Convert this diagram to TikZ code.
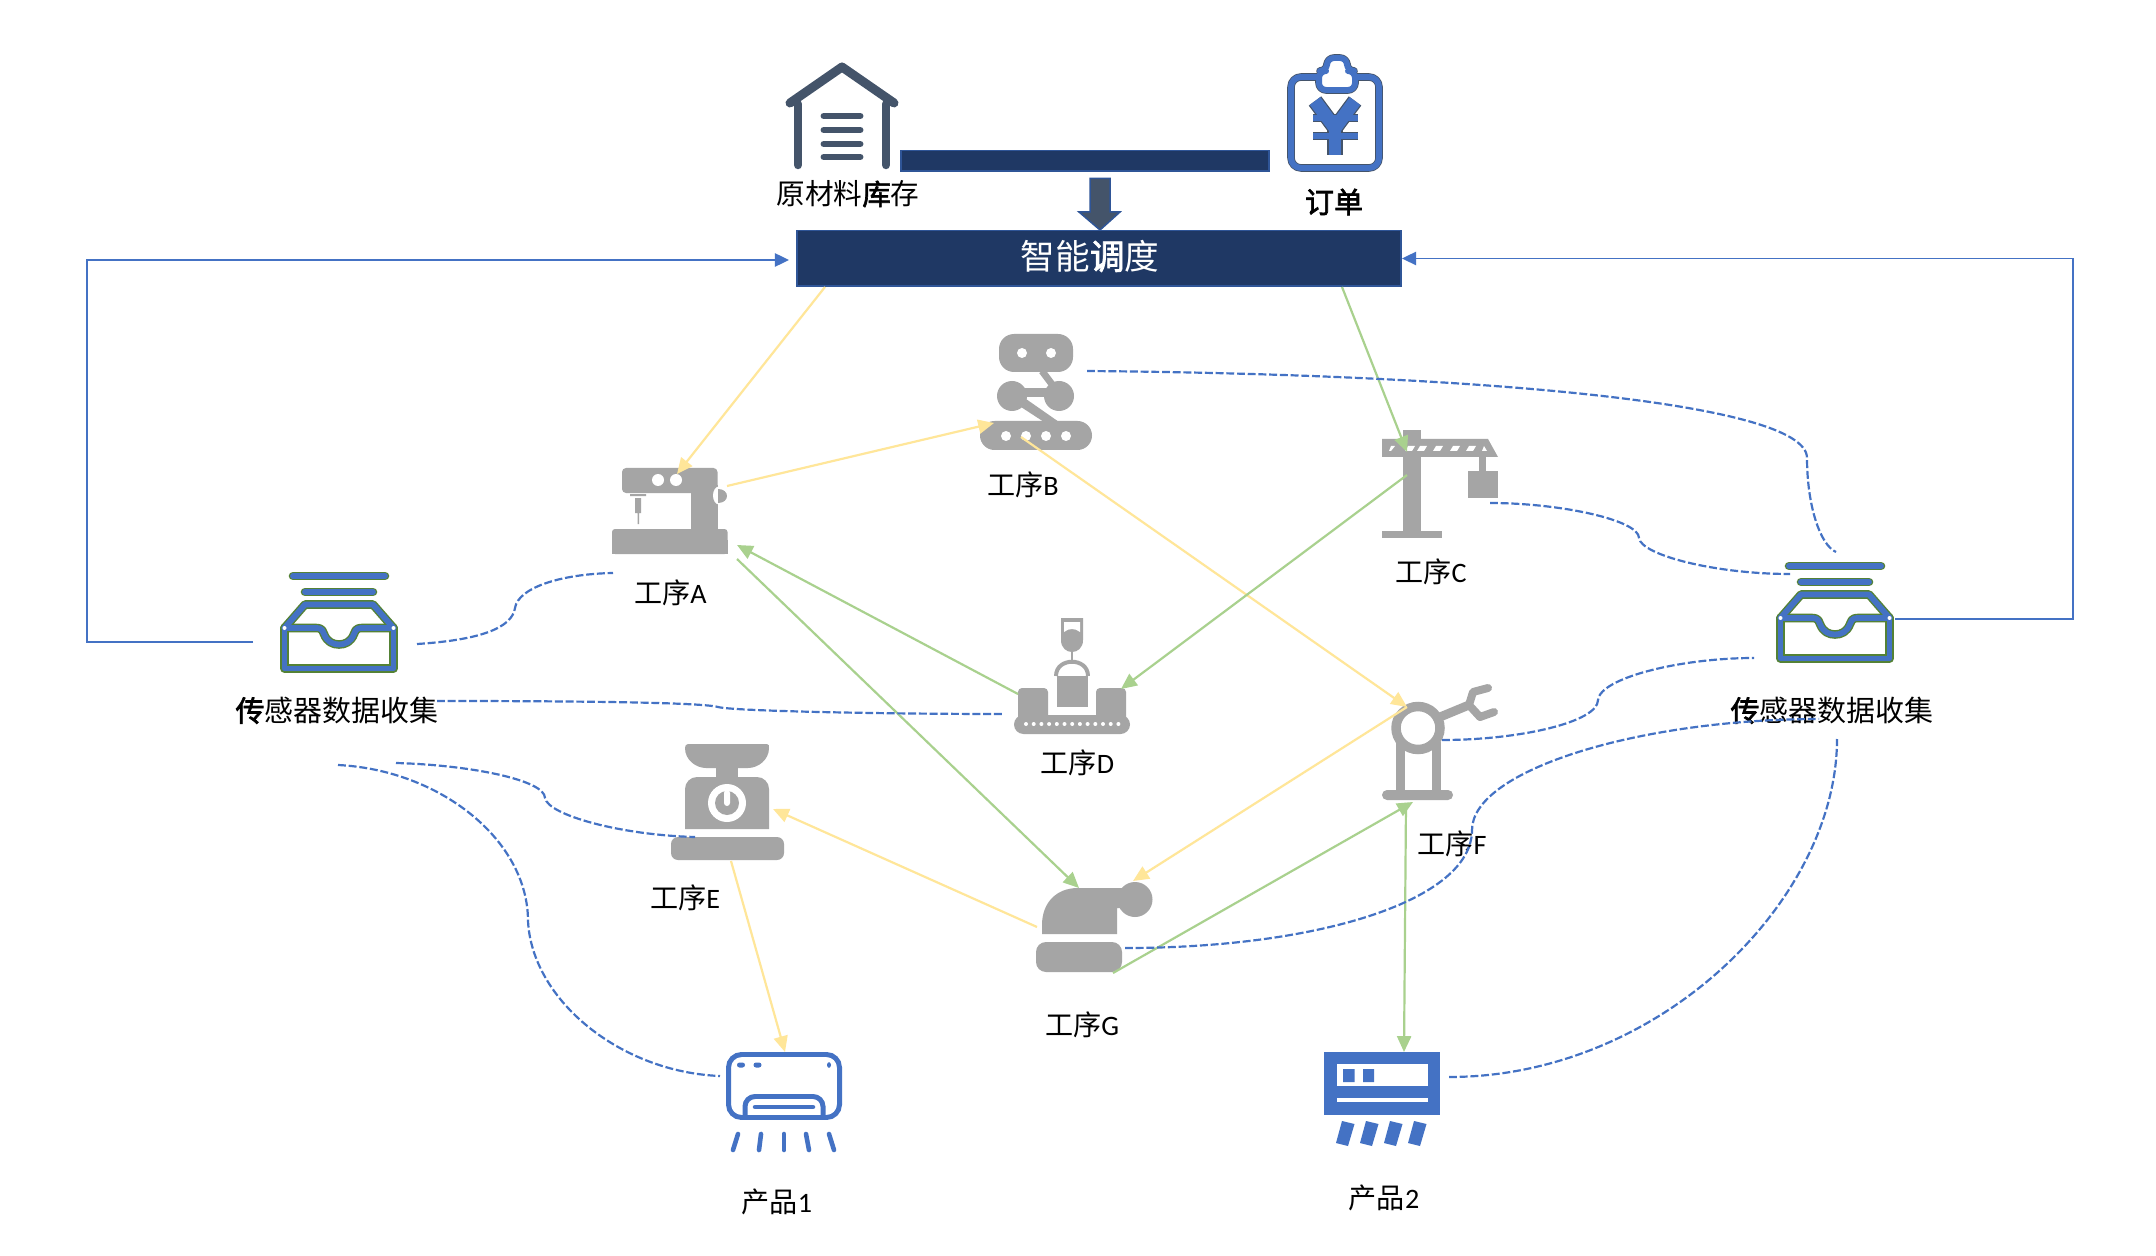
\documentclass[tikz,border=0pt]{standalone}
\usepackage{fontspec}
\setmainfont{Carlito}
\newfontfamily\cjk{Noto Sans CJK SC}
\newfontfamily\cjkheavy[FakeBold=2.2]{Noto Sans CJK SC}
\usetikzlibrary{arrows.meta}
\definecolor{gy}{HTML}{A5A5A5}
\definecolor{bl}{HTML}{4472C4}
\definecolor{gn}{HTML}{548235}
\definecolor{slatec}{HTML}{44546A}
\definecolor{navy}{HTML}{1F3864}
\definecolor{navyedge}{HTML}{2F5597}
\definecolor{yel}{HTML}{FFE699}
\definecolor{grn}{HTML}{A9D18E}
\tikzset{
  lw/.style={line width=#1*0.5669pt},
  flow/.style={lw=2.2,-{Triangle[length=9pt,width=8pt]}},
  yarr/.style={flow,draw=yel},
  garr/.style={flow,draw=grn},
  feedback/.style={lw=2,draw=bl,-{Triangle[length=8pt,width=7.5pt]}},
  link/.style={lw=2.2,draw=bl,dash pattern=on 4.5pt off 1.6pt},
  lab/.style={font=\fontsize{16}{19}\selectfont,inner sep=0pt,text=black},
  labbig/.style={font=\fontsize{16.5}{19}\selectfont,inner sep=0pt,text=black},
  grayline/.style={draw=gy,lw=#1},
  inedge/.style={draw=gn,lw=8.6,line join=round,line cap=round},
  incore/.style={draw=bl,lw=5.8,line join=round,line cap=round},
  clipedge/.style={draw=slatec,lw=7.6,line join=round},
  clipcore/.style={draw=bl,lw=6,line join=round},
  prodline/.style={draw=bl,lw=5,line cap=round},
}
\newcommand{\inboxpath}[1]{%
  \draw[#1] (1789,566) -- (1881,566);
  \draw[#1] (1801,582) -- (1869,582);
  \draw[#1] (1780.5,618) -- (1801,594.5) -- (1869,594.5) -- (1889.5,618);
  \draw[#1] (1780.5,618) -- (1780.5,658.5) -- (1889.5,658.5) -- (1889.5,618);
  \draw[#1] (1780.5,618) -- (1812,618) .. controls (1819,618) and (1819,622) .. (1820,624)
     .. controls (1823,632) and (1829,634.5) .. (1835,634.5)
     .. controls (1841,634.5) and (1847,632) .. (1850,624)
     .. controls (1851,622) and (1851,618) .. (1858,618) -- (1889.5,618);
}
\newcommand{\inboxicon}{%
  \inboxpath{inedge}\inboxpath{incore}
  \fill[white] (1780.5,618) circle[radius=2] (1889.5,618) circle[radius=2];
}
\newcommand{\clipcontent}[2]{%
  \draw[#1,rounded corners=0.2cm] (1291,77) rectangle (1379,168);
  \draw[#1,fill=white,rounded corners=0.14cm] (1319,90) -- (1319,71) -- (1327,71) -- (1327,58) -- (1347,58) -- (1347,71) -- (1355,71) -- (1355,90) -- cycle;
  \draw[#1,lw=#2+1.5] (1315,101) -- (1335,128) -- (1355,101);
  \draw[#1,lw=#2] (1313,118) -- (1358,118);
  \draw[#1,lw=#2] (1313,136) -- (1358,136);
  \draw[#1,lw=#2+1] (1335,128) -- (1335,155);
}
\begin{document}
\begin{tikzpicture}[x=0.02cm,y=-0.02cm]
\useasboundingbox (0,0) rectangle (2156,1256);
\fill[white] (0,0) rectangle (2156,1256);

% warehouse
\draw[slatec,lw=9,line cap=round,line join=round] (790,103) -- (842,67) -- (894,103);
\draw[slatec,lw=8.5,line cap=round] (798,104) -- (798,165);
\draw[slatec,lw=8.5,line cap=round] (886,104) -- (886,165);
\foreach \yy in {116,130,144,157}{\draw[slatec,lw=7,line cap=round] (824,\yy) -- (860,\yy);}
\node[lab,font=\fontsize{16.3}{19}\selectfont] (lblStock) at (848,194) {\cjk 原材料{\cjkheavy 库}存};

% order clipboard
\clipcontent{clipedge}{8}\clipcontent{clipcore}{6.6}
\node[lab,font=\fontsize{16.5}{19}\selectfont] (lblOrder) at (1334,202) {\cjkheavy 订单};

% top bar, block arrow, scheduling box
\node[draw=navyedge,fill=navy,lw=2,inner sep=0pt,minimum width=7.36cm,minimum height=0.42cm] (bar) at (1085,161) {};
\node[draw=navyedge,fill=navy,lw=2,inner sep=0pt,minimum width=12.08cm,minimum height=1.12cm] (sched) at (1099,258.5) {};
\node[inner sep=0pt,text=white,font=\fontsize{19.7}{22}\selectfont] (schedText) at (1090,256) {\cjk 智能{\cjkheavy 调}度};
\draw[fill=slatec,draw=navyedge,lw=1.5] (1090,178.5) -- (1110,178.5) -- (1110,212) -- (1120,212) -- (1100,230) -- (1079,212) -- (1090,212) -- cycle;

% process A (sewing machine)
\fill[gy,rounded corners=0.08cm] (622,468) rectangle (717.5,493);
\fill[gy] (691,485) rectangle (717.5,535);
\fill[gy,rounded corners=0.06cm] (612,529) rectangle (727.5,554);
\fill[gy] (612,540) rectangle (727.5,554);
\fill[white] (658,480) circle[radius=6] (676,480) circle[radius=6];
\fill[gy] (630,494) rectangle (646,496) (635,498) rectangle (641,513) (637.5,513) rectangle (639,524);
\fill[white] (719,495.5) ellipse[x radius=6,y radius=9];
\fill[gy] (718,489) .. controls (730,489) and (730,503) .. (718,503) -- cycle;
\node[lab] (lblA) at (670.5,593) {{\cjk 工序}A};

% process B (tracked robot)
\fill[gy,rounded corners=0.3cm] (999,334) rectangle (1073,372);
\fill[white] (1022,353) circle[radius=5] (1051,353) circle[radius=5];
\fill[gy] (1012,396) circle[radius=15] (1059,396) circle[radius=15];
\fill[gy] (1012,388) rectangle (1059,397);
\draw[grayline=7] (1042,371) -- (1054,387);
\fill[gy] (1021,407) -- (1026,399) -- (1059,422) -- (1044,422) -- cycle;
\fill[gy,rounded corners=0.29cm] (980,421) rectangle (1092,450);
\foreach \xx in {1006,1026,1046,1066}{\fill[white] (\xx,436) circle[radius=5];}
\node[lab] (lblB) at (1023,485) {{\cjk 工序}B};

% process C (crane)
\fill[gy] (1403,430) rectangle (1421,532);
\fill[gy] (1382,531) rectangle (1442,538);
\fill[gy] (1382,439) -- (1488,439) -- (1498,457) -- (1382,457) -- cycle;
\fill[white] (1389,451) -- (1391,446) -- (1395,446) -- (1391,451) -- cycle;
\foreach \xx in {1405,1417,1433,1450,1466}{\fill[white] (\xx,451) -- (\xx+3,446) -- (\xx+10,446) -- (\xx+7,451) -- cycle;}
\fill[white] (1482,451) -- (1484,446) -- (1487,451) -- cycle;
\fill[gy] (1479,457) rectangle (1486,471);
\fill[gy] (1467.5,471) rectangle (1498,498);
\node[lab] (lblC) at (1431,572) {{\cjk 工序}C};

% process D (casting on conveyor)
\fill[gy,rounded corners=0.19cm] (1014,715) rectangle (1130,734);
\fill[gy,rounded corners=0.08cm] (1018,688) rectangle (1048,725);
\fill[gy,rounded corners=0.08cm] (1096,688) rectangle (1126,725);
\fill[gy] (1057,676) rectangle (1087.5,707);
\draw[grayline=4] (1056,676) .. controls (1056,657) and (1088,657) .. (1088,676);
\draw[grayline=2.5] (1072,650) -- (1072,662);
\fill[gy] (1061,618) -- (1083,618) -- (1083,640) .. controls (1083,656) and (1061,656) .. (1061,640) -- cycle;
\fill[white] (1064,622) -- (1080,622) -- (1080,632) .. controls (1075,628) and (1069,628) .. (1064,632) -- cycle;
\foreach \xx in {0,...,12}{\fill[white] (1026+\xx*7.7,724) circle[radius=2];}
\node[lab] (lblD) at (1077.5,763) {{\cjk 工序}D};

% process E (scale)
\fill[gy] (688,744) -- (767,744) .. controls (769,744) and (769,746) .. (769,748) .. controls (769,760) and (758,768) .. (748,768) -- (706,768) .. controls (696,768) and (685,760) .. (685,748) .. controls (685,746) and (686,744) .. (688,744) -- cycle;
\fill[gy] (716,767) rectangle (738,778);
\fill[gy] (685,829) [rounded corners=0.24cm] -- (685,777) -- (769,777) [sharp corners] -- (769,829) -- cycle;
\fill[white] (727,803) circle[radius=19];
\fill[gy] (727,803) circle[radius=12];
\fill[white,rounded corners=0.06cm] (724,790) rectangle (730,806);
\fill[gy,rounded corners=0.14cm] (671,837) rectangle (784,860);
\node[lab] (lblE) at (685,898) {{\cjk 工序}E};

% process F (robot arm)
\draw[grayline=9] (1400,742) -- (1400,795);
\draw[grayline=9] (1436,742) -- (1436,795);
\fill[gy,rounded corners=0.1cm] (1382,790) rectangle (1453,800);
\draw[grayline=9.5] (1418,728) ellipse[x radius=22,y radius=21.5];
\draw[grayline=9] (1440,717) -- (1469,705);
\draw[grayline=8,line cap=round,line join=round] (1488,688) -- (1473,692) -- (1469,705) -- (1480,717) -- (1494,712);
\node[lab] (lblF) at (1452,844) {{\cjk 工序}F};

% process G
\fill[gy] (1042,934) -- (1042,925) .. controls (1042,903) and (1056,888) .. (1078,888) -- (1135,888) -- (1135,908) -- (1117,908) -- (1117,934) -- cycle;
\fill[gy] (1135,899.5) circle[radius=17.5];
\fill[gy,rounded corners=0.2cm] (1036,942) rectangle (1122,972);
\node[lab] (lblG) at (1082,1025) {{\cjk 工序}G};

% product 1
\draw[prodline,rounded corners=0.26cm] (728.5,1054.5) rectangle (839.5,1117.5);
\draw[prodline,rounded corners=0.2cm,line cap=butt] (745,1116) -- (745,1096.5) -- (823,1096.5) -- (823,1116);
\draw[prodline,lw=4.5] (755,1107) -- (813,1107);
\fill[bl,rounded corners=0.05cm] (737,1062.5) rectangle (745,1067.5) (753.5,1062.5) rectangle (761.5,1067.5);
\fill[bl] (829,1065) ellipse[x radius=2,y radius=2.8];
\draw[prodline,lw=4.6] (738,1134) -- (733,1150);
\draw[prodline,lw=4.6] (761,1134) -- (759,1150);
\draw[prodline,lw=4.6] (784,1134) -- (784,1150);
\draw[prodline,lw=4.6] (806,1134) -- (809,1150);
\draw[prodline,lw=4.6] (829,1134) -- (834,1150);
\node[lab] (lblP1) at (777,1202) {{\cjk 产品}1};

% product 2
\fill[bl] (1324,1052) rectangle (1440,1115);
\fill[white] (1337,1064) rectangle (1427.5,1086);
\fill[bl] (1343,1069) rectangle (1354.5,1082) (1363,1069) rectangle (1374,1082);
\fill[white] (1337,1098) rectangle (1427.5,1102);
\foreach \xx in {0,24,48,72}{\fill[bl] (1342+\xx,1121) -- (1354.5+\xx,1124) -- (1348+\xx,1146) -- (1336+\xx,1143) -- cycle;}
\node[lab] (lblP2) at (1384,1198) {{\cjk 产品}2};

% sensor collectors
\inboxicon
\node[labbig] (lblSR) at (1832,710.5) {\cjk {\cjkheavy 传}感器数据收集};
\begin{scope}[shift={(-1496,10)}]
\inboxicon
\end{scope}
\node[labbig] (lblSL) at (337,710.5) {\cjk {\cjkheavy 传}感器数据收集};

% connector end points
\coordinate (sLout) at (253,642);
\coordinate (fbLa) at (87,642);
\coordinate (fbLb) at (87,260);
\coordinate (schedL) at (789,260);
\coordinate (sRout) at (1895,619);
\coordinate (fbRa) at (2073,619);
\coordinate (fbRb) at (2073,258.5);
\coordinate (schedR) at (1402,258.5);
\coordinate (schedA) at (825,287);
\coordinate (schedC) at (1342,287);
\coordinate (aIn) at (677,474);
\coordinate (aOut) at (727,486);
\coordinate (bIn) at (994,423);
\coordinate (bOut) at (1021,437);
\coordinate (fIn) at (1407,707);
\coordinate (cIn) at (1407,452);
\coordinate (cOut) at (1407,475);
\coordinate (dIn) at (1121,689);
\coordinate (dOut) at (1018,694);
\coordinate (aInD) at (737,545);
\coordinate (aOutG) at (737,559);
\coordinate (gIn) at (1079,888);
\coordinate (gOutE) at (1037,927);
\coordinate (eIn) at (773,809);
\coordinate (fOutG) at (1407,707);
\coordinate (gInF) at (1133,881);
\coordinate (gOutF) at (1113,973);
\coordinate (fInG) at (1413,802);
\coordinate (fOutP) at (1406,803);
\coordinate (pTwoIn) at (1404,1052);
\coordinate (eOut) at (731,861);
\coordinate (pOneIn) at (785,1052);

% feedback lines
\draw[feedback] (sLout) -- (fbLa) -- (fbLb) -- (schedL);
\draw[feedback] (sRout) -- (fbRa) -- (fbRb) -- (schedR);

% process flow
\draw[yarr] (schedA) -- (aIn);
\draw[yarr] (aOut) -- (bIn);
\draw[yarr] (bOut) -- (fIn);
\draw[yarr] (fOutG) -- (gInF);
\draw[yarr] (gOutE) -- (eIn);
\draw[yarr] (eOut) -- (pOneIn);
\draw[garr] (schedC) -- (cIn);
\draw[garr] (cOut) -- (dIn);
\draw[garr] (dOut) -- (aInD);
\draw[garr] (aOutG) -- (gIn);
\draw[garr] (gOutF) -- (fInG);
\draw[garr] (fOutP) -- (pTwoIn);

% sensor links
\draw[link] (417,644) .. controls (480,640) and (512,628) .. (515,608) .. controls (518,588) and (560,574) .. (613,573);
\draw[link] (437,701) .. controls (560,701) and (700,702) .. (718,707) .. controls (732,711) and (880,714) .. (1003,714);
\draw[link] (396,763) .. controls (470,765) and (545,780) .. (545,798) .. controls (548,815) and (620,835) .. (695,837);
\draw[link] (338,765) .. controls (440,770) and (528,840) .. (528,921) .. controls (532,1000) and (620,1072) .. (720,1076);
\draw[link] (1087,371) .. controls (1450,374) and (1807,400) .. (1807,458) .. controls (1807,505) and (1820,545) .. (1836,552);
\draw[link] (1490,503) .. controls (1560,503) and (1639,520) .. (1639,538) .. controls (1641,555) and (1715,574) .. (1790,574);
\draw[link] (1442,740) .. controls (1520,740) and (1598,722) .. (1598,700) .. controls (1600,678) and (1680,658) .. (1754,658);
\draw[link] (1125,948) .. controls (1320,948) and (1472,900) .. (1472,830) .. controls (1472,770) and (1640,719) .. (1819,719);
\draw[link] (1449,1077) .. controls (1660,1077) and (1837,900) .. (1837,739);
\end{tikzpicture}
\end{document}
